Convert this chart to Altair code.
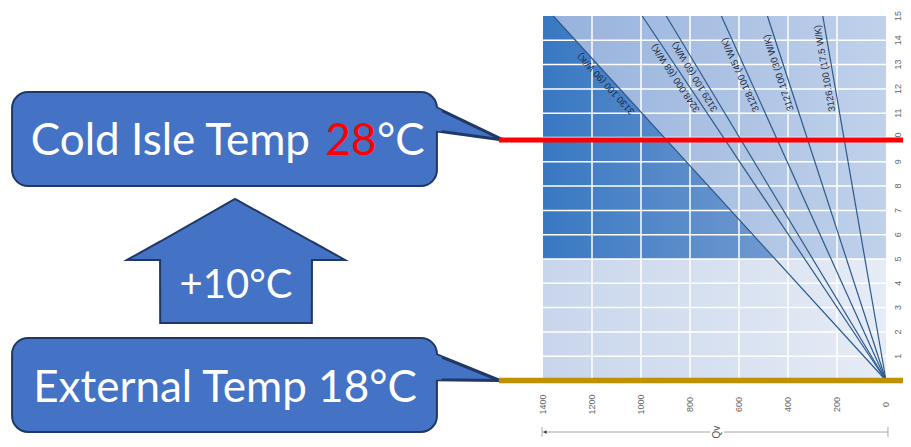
import math
import altair as alt
import pandas as pd

# ---------------- values ----------------
q_ticks = [0, 200, 400, 600, 800, 1000, 1200, 1400]          # Qv axis (W)
dt_ticks = list(range(16))                                      # ΔT axis (K)
q_grid = [200, 400, 600, 800, 1000, 1200]
dt_grid = list(range(1, 15))

band_names = ["lower", "upper"]
band_dt_from = [0, 5]
band_dt_to = [5, 15]

series_names = ["3130.100 (90 W/K)", "3248.000 (68 W/K)", "3129.100 (60 W/K)",
                "3128.100 (45 W/K)", "3127.100 (30 W/K)", "3126.100 (17.5 W/K)"]
series_q_top = [1358, 995, 897, 672, 484, 258]     # Qv reached at ΔT = 15
series_label_dt = [12.4, 12.6, 12.65, 12.7, 12.75, 12.9]
DT_TOP = 15
Q_MAX = 1400

cold_dt = 9.9      # cold isle line
ext_dt = 0.0       # external temperature line

# annotation geometry in chart units (Qv, ΔT)
box_q = [3567, 1833]
cold_box_dt = [8.0, 11.87]
ext_box_dt = [-2.12, 1.75]
cold_tail = [11.21, 10.27, 1563, 9.9]   # top, bottom at box edge; tip q, tip dt
ext_tail = [1.05, 0.03, 1576, 0.0]
arrow_q = [2208, 2343, 2343.5, 2657, 2962.5, 2963, 3098]
arrow_top = [4.96, 5.72, 5.72, 7.47, 5.72, 5.72, 4.96]
arrow_bottom = [4.96, 4.96, 2.37, 2.37, 2.37, 4.96, 4.96]
temp_line_q = [1580, -110]

cold_text_parts = ["Cold Isle Temp", "28", "°C"]
cold_text_q = [2351, 2184, 2078]
cold_text_dt = 9.28
ext_text = "External Temp 18°C"
ext_text_q, ext_text_dt = 2698, -0.885
arrow_text = "+10°C"
arrow_text_q, arrow_text_dt = 2653, 3.395

x_label_dt = -0.99     # where Qv tick labels sit
y_label_q = -49        # where ΔT tick labels sit

dim_dt = -2.12
dim_segments = [[1404, 718], [661, -8]]
dim_ends = [1404, -8]
dim_end_dt = [-1.91, -2.32]
dim_arrow_q = 1392
dim_text_q = 690

# ---------------- layout ----------------
W, H = 343, 364.5
xs = alt.Scale(domain=[0, Q_MAX], reverse=True, nice=False, zero=False)
ys = alt.Scale(domain=[0, DT_TOP], nice=False, zero=False)
FILL = "#4472c4"
EDGE = "#1f3864"


def X(f):
    return alt.X(f, type="quantitative", scale=xs, axis=None)


def Y(f):
    return alt.Y(f, type="quantitative", scale=ys, axis=None)


def grad(c0, c1):
    return alt.Gradient(gradient="linear",
                        stops=[alt.GradientStop(color=c0, offset=0),
                               alt.GradientStop(color=c1, offset=1)],
                        x1=0, x2=1, y1=0, y2=0)


bands = pd.DataFrame({"band": band_names, "dt0": band_dt_from, "dt1": band_dt_to,
                      "q0": [0, 0], "q1": [Q_MAX, Q_MAX]})

lower = alt.Chart(bands[bands.band == "lower"]).mark_rect(
    color=grad("#c8d5eb", "#e6ecf6")).encode(
    x=X("q0"), x2="q1:Q", y=Y("dt0"), y2="dt1:Q")

upper = alt.Chart(bands[bands.band == "upper"]).mark_rect(
    color=grad("#95b1dc", "#c0d1ea")).encode(
    x=X("q0"), x2="q1:Q", y=Y("dt0"), y2="dt1:Q")

# darker zone left of / below the steepest line, inside the upper band
q_at5 = series_q_top[0] * band_dt_from[1] / DT_TOP
dark = pd.DataFrame({"q": [q_at5, series_q_top[0], Q_MAX],
                     "top": [band_dt_from[1], DT_TOP, DT_TOP],
                     "bot": [band_dt_from[1]] * 3})
dark_area = alt.Chart(dark).mark_area(color=grad("#3878c2", "#7099d0")).encode(
    x=X("q"), y=Y("top"), y2="bot:Q")

vgrid = alt.Chart(pd.DataFrame({"q": q_grid, "a": 0, "b": DT_TOP})).mark_rule(
    color="white", strokeWidth=1.5).encode(x=X("q"), y=Y("a"), y2="b:Q")
hgrid = alt.Chart(pd.DataFrame({"dt": dt_grid, "a": 0, "b": Q_MAX})).mark_rule(
    color="white", strokeWidth=1.5).encode(y=Y("dt"), x=X("a"), x2="b:Q")

rows = []
for n, qt in zip(series_names, series_q_top):
    rows.append({"s": n, "q": 0, "dt": 0})
    rows.append({"s": n, "q": qt, "dt": DT_TOP})
fan = alt.Chart(pd.DataFrame(rows)).mark_line(color="#2c5a8a", strokeWidth=1.2).encode(
    x=X("q"), y=Y("dt"), detail="s:N")

px_q = W / Q_MAX
px_dt = H / DT_TOP
lab = pd.DataFrame({
    "s": series_names,
    "q": [qt * d / DT_TOP for qt, d in zip(series_q_top, series_label_dt)],
    "dt": series_label_dt,
    "ang": [180 + math.degrees(math.atan2(DT_TOP * px_dt, qt * px_q)) for qt in series_q_top],
})
fan_labels = alt.Chart(lab).mark_text(
    font="Liberation Sans", fontSize=9.5, color="#1c2c44", align="center",
    baseline="bottom", dy=-2).encode(
    x=X("q"), y=Y("dt"), text="s:N", angle=alt.Angle("ang:Q", scale=None))

# tick labels
xlab = alt.Chart(pd.DataFrame({"q": q_ticks, "dt": x_label_dt, "t": [str(v) for v in q_ticks]})).mark_text(
    font="Liberation Sans", fontSize=9, color="#666666", angle=270, align="center",
    baseline="middle").encode(x=X("q"), y=Y("dt"), text="t:N")
ylab = alt.Chart(pd.DataFrame({"q": y_label_q, "dt": dt_ticks, "t": [str(v) for v in dt_ticks]})).mark_text(
    font="Liberation Sans", fontSize=9, color="#666666", angle=270, align="center",
    baseline="middle").encode(x=X("q"), y=Y("dt"), text="t:N")


def tail_layers(t):
    top, bot, tq, tdt = t
    edge = box_q[1]
    poly = pd.DataFrame({"q": [tq, edge], "top": [tdt, top], "bot": [tdt, bot]})

    def at(qv, a, b):
        return b + (qv - tq) * (a - b) / (edge - tq)
    pq = [edge - 20, edge + 16]
    patch = pd.DataFrame({"q": pq, "top": [at(v, top, tdt) for v in pq],
                          "bot": [at(v, bot, tdt) for v in pq]})
    stroked = alt.Chart(poly).mark_area(color=FILL, stroke=EDGE, strokeWidth=3,
                                        strokeJoin="miter").encode(
        x=X("q"), y=Y("top"), y2="bot:Q")
    filled = alt.Chart(patch).mark_area(color=FILL).encode(
        x=X("q"), y=Y("top"), y2="bot:Q")
    return stroked, filled


def box(dts):
    return alt.Chart(pd.DataFrame({"q0": [box_q[0]], "q1": [box_q[1]],
                                   "a": [dts[0]], "b": [dts[1]]})).mark_rect(
        color=FILL, stroke=EDGE, strokeWidth=2, cornerRadius=16).encode(
        x=X("q0"), x2="q1:Q", y=Y("a"), y2="b:Q")


ct_s, ct_f = tail_layers(cold_tail)
et_s, et_f = tail_layers(ext_tail)

arrow = alt.Chart(pd.DataFrame({"q": arrow_q, "top": arrow_top, "bot": arrow_bottom})).mark_area(
    color=FILL, stroke=EDGE, strokeWidth=2, strokeJoin="miter").encode(
    x=X("q"), y=Y("top"), y2="bot:Q")

red = alt.Chart(pd.DataFrame({"a": [temp_line_q[0]], "b": [temp_line_q[1]], "dt": [cold_dt]})).mark_rule(
    color="#ff0000", strokeWidth=5).encode(x=X("a"), x2="b:Q", y=Y("dt"))
gold = alt.Chart(pd.DataFrame({"a": [temp_line_q[0]], "b": [temp_line_q[1]], "dt": [ext_dt]})).mark_rule(
    color="#bf9000", strokeWidth=5.5).encode(x=X("a"), x2="b:Q", y=Y("dt"))


def txt(s, q, dt, align, color, size):
    return alt.Chart(pd.DataFrame({"t": [s], "q": [q], "dt": [dt]})).mark_text(
        font="Lato", fontSize=size, color=color, align=align, baseline="alphabetic").encode(
        x=X("q"), y=Y("dt"), text="t:N")


t1 = txt(cold_text_parts[0], cold_text_q[0], cold_text_dt, "right", "white", 44)
t2 = txt(cold_text_parts[1], cold_text_q[1], cold_text_dt, "center", "#ff0000", 44)
t3 = txt(cold_text_parts[2], cold_text_q[2], cold_text_dt, "left", "white", 44)
t4 = txt(ext_text, ext_text_q, ext_text_dt, "center", "white", 44)
t5 = txt(arrow_text, arrow_text_q, arrow_text_dt, "center", "white", 40)

dim_line = alt.Chart(pd.DataFrame({"a": [s[0] for s in dim_segments], "b": [s[1] for s in dim_segments],
                                   "dt": [dim_dt] * 2})).mark_rule(color="#a8a8a8", strokeWidth=1).encode(
    x=X("a"), x2="b:Q", y=Y("dt"))
dim_tick = alt.Chart(pd.DataFrame({"q": dim_ends, "a": [dim_end_dt[0]] * 2, "b": [dim_end_dt[1]] * 2})).mark_rule(
    color="#a8a8a8", strokeWidth=1).encode(x=X("q"), y=Y("a"), y2="b:Q")
dim_head = alt.Chart(pd.DataFrame({"q": [dim_arrow_q], "dt": [dim_dt]})).mark_point(
    shape="triangle-left", filled=True, size=14, color="#333333", opacity=1).encode(x=X("q"), y=Y("dt"))
dim_text = alt.Chart(pd.DataFrame({"t": ["Qv"], "q": [dim_text_q], "dt": [dim_dt]})).mark_text(
    font="Liberation Sans", fontSize=10, color="#555555", angle=270, align="center",
    baseline="middle").encode(x=X("q"), y=Y("dt"), text="t:N")

chart = alt.layer(
    lower, upper, dark_area, vgrid, hgrid, fan, fan_labels, xlab, ylab,
    ct_s, box(cold_box_dt), ct_f,
    et_s, box(ext_box_dt), et_f,
    arrow, red, gold, t1, t2, t3, t4, t5,
    dim_line, dim_tick, dim_head, dim_text,
).properties(
    width=W, height=H,
    padding={"left": 535, "top": 8, "right": 17, "bottom": 58.5},
    autosize=alt.AutoSizeParams(type="none"),
    background="white",
).configure_view(stroke=None)

chart.save("out.html", embed_options={"renderer": "svg", "actions": False})
